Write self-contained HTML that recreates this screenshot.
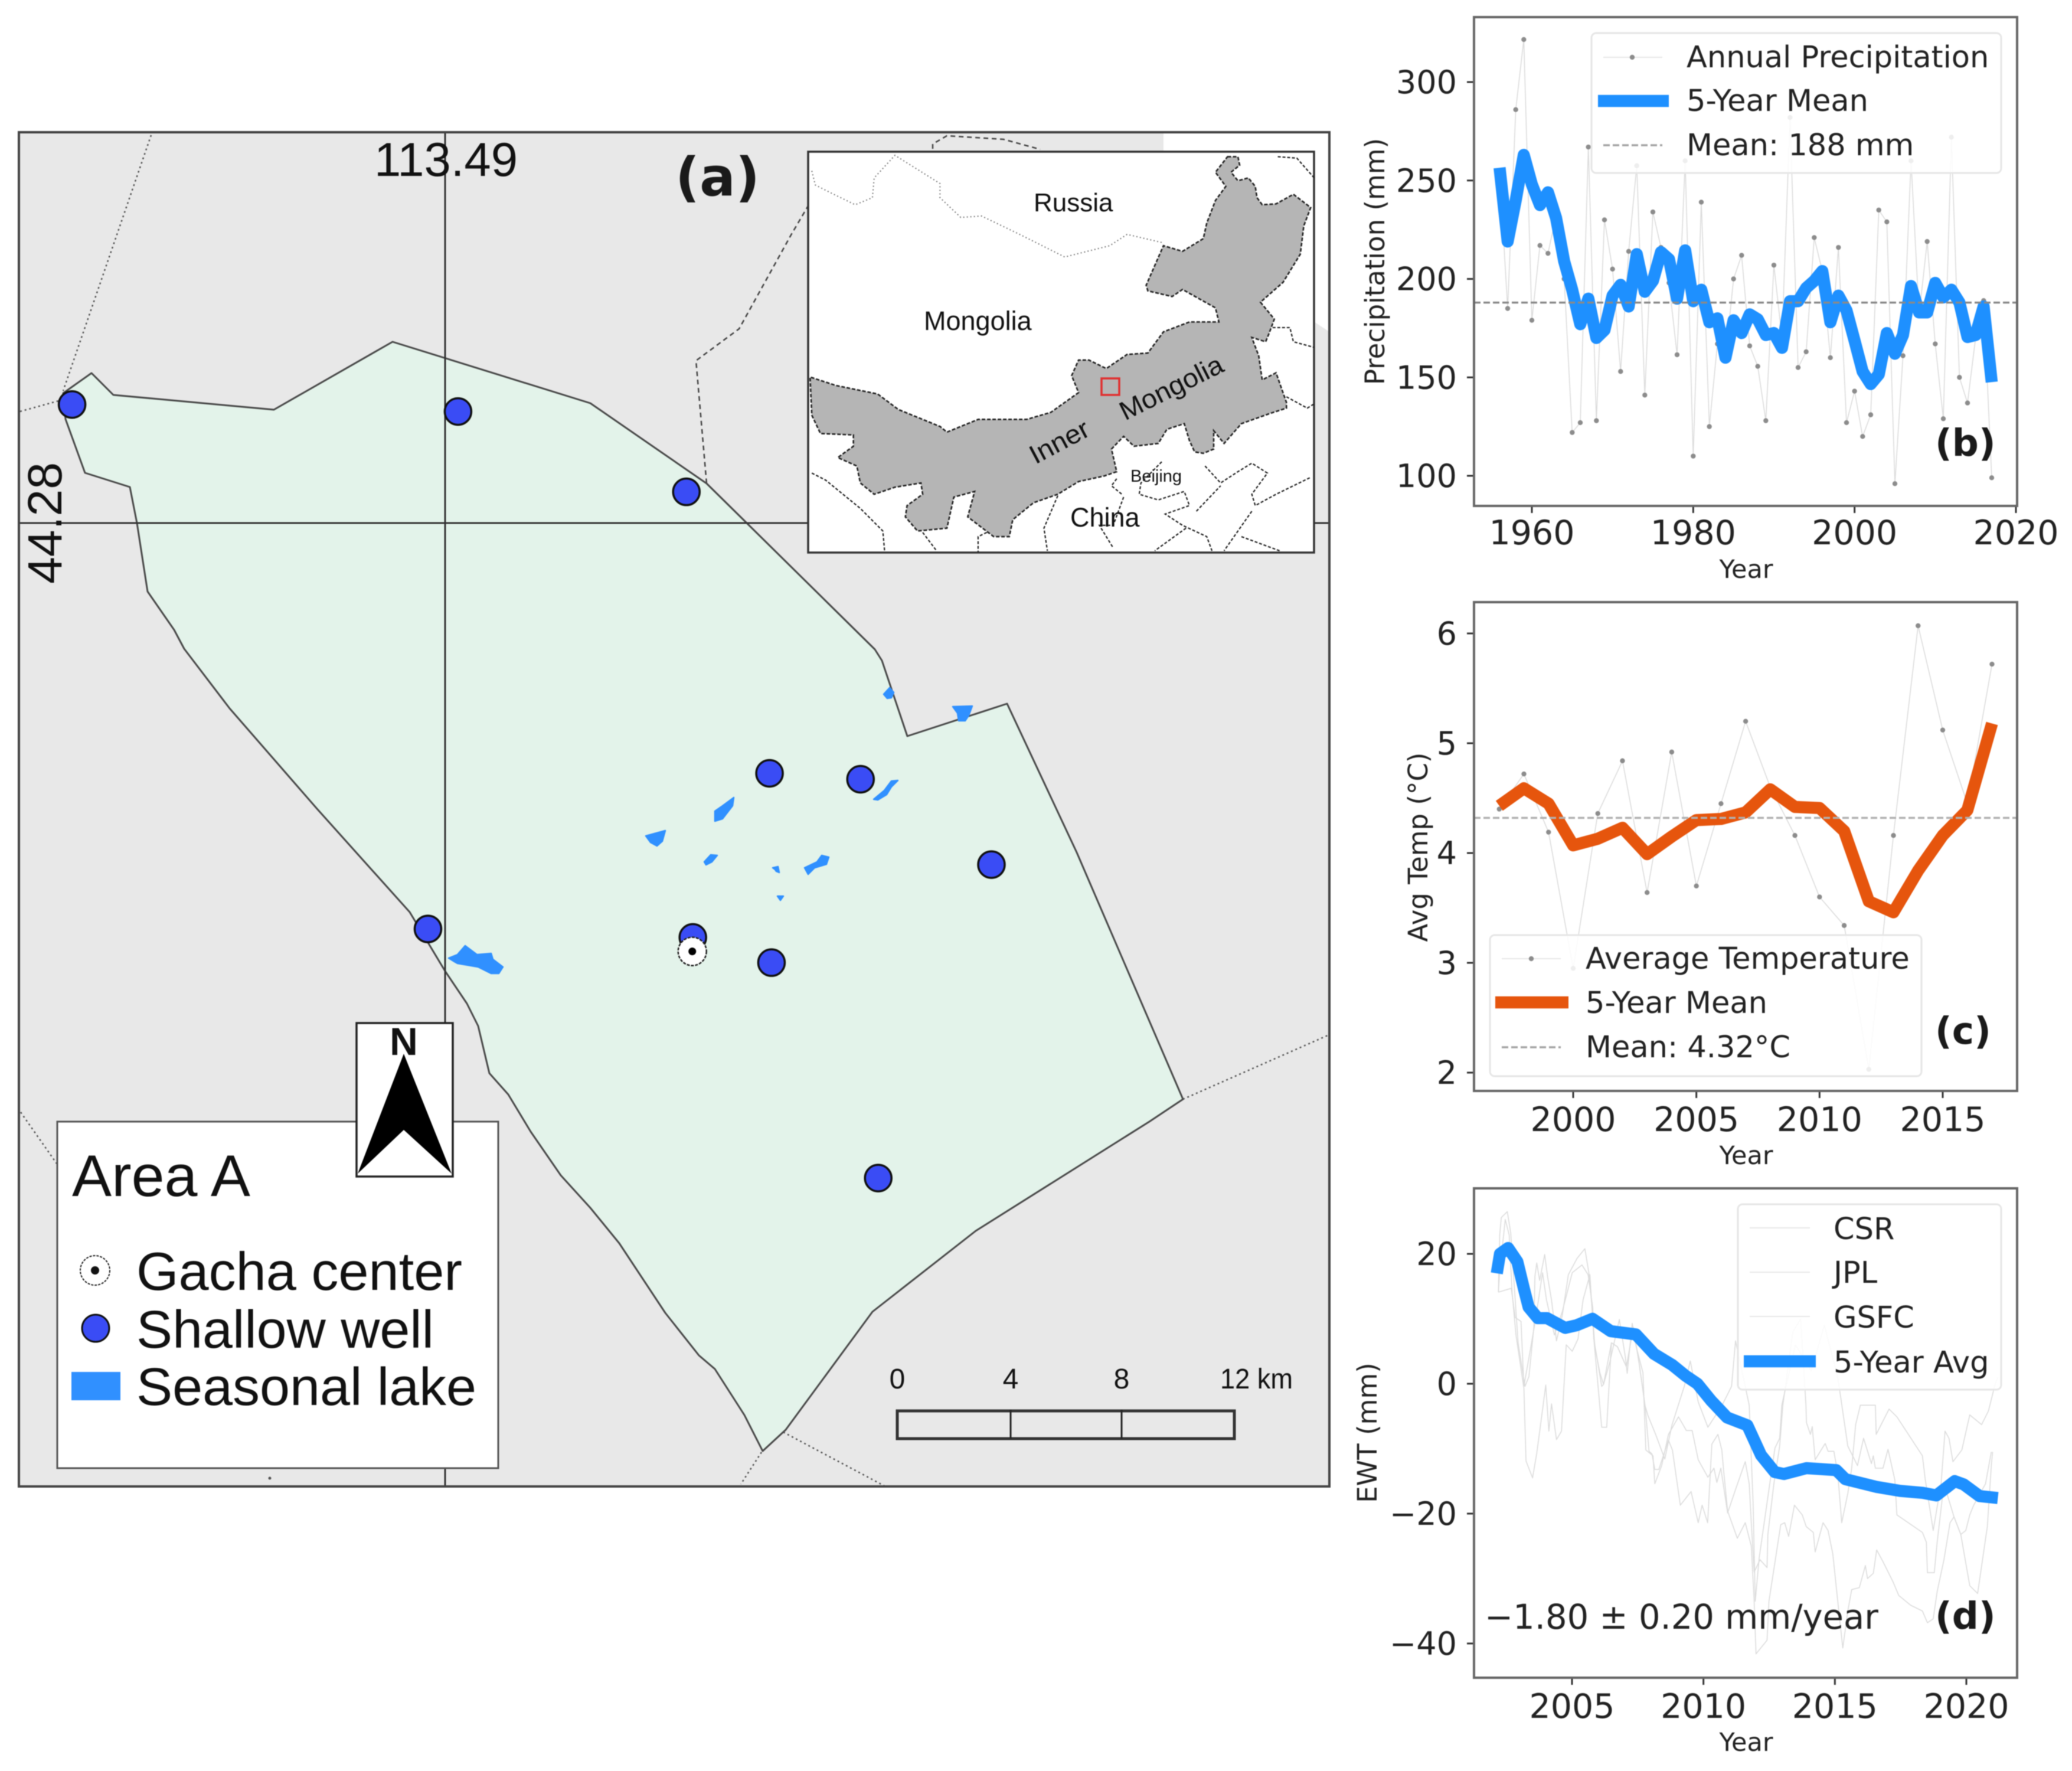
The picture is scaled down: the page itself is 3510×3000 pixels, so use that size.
<!DOCTYPE html>
<html>
<head>
<meta charset="utf-8">
<title>Study area map with precipitation, temperature and EWT panels</title>
<style>
html,body{margin:0;padding:0;background:#fff;}
#fig{display:block;width:3510px;height:3000px;filter:blur(0.9px);}
.mp{font-family:"Liberation Sans",Arial,sans-serif;fill:#111;}
.dj{font-family:"DejaVu Sans",sans-serif;fill:#222;}
.bd{font-family:"DejaVu Sans",sans-serif;font-weight:bold;fill:#1a1a1a;}
.dot{fill:none;stroke:#555;stroke-width:2.5;stroke-dasharray:3 5;}
.dsh{fill:none;stroke:#444;stroke-width:2.5;stroke-dasharray:8 6;}
.prov{fill:none;stroke:#222;stroke-width:2.2;stroke-dasharray:5 3;vector-effect:non-scaling-stroke;}
.lake{fill:#3090ff;stroke:#3090ff;stroke-width:2.5;stroke-linejoin:round;}
</style>
</head>
<body>
<svg id="fig" xmlns="http://www.w3.org/2000/svg" width="3510" height="3000" viewBox="0 0 3510 3000">
  <rect x="0" y="0" width="3510" height="3000" fill="#ffffff"/>

  <g id="panel-a">
    <rect x="32" y="224" width="2220" height="2294" fill="#e8e8e8"/>
    <polygon points="1971,224 2252,224 2252,562 2226,545 2226,257 1971,257" fill="#ffffff"/>
    <polyline class="dot" points="256,229 107,662"/>
    <polyline class="dot" points="34,697 103,678"/>
    <polyline class="dsh" points="1370,347 1340,398 1252,557 1179,611 1197,819"/>
    <polyline class="dsh" points="1580,252 1580,244 1604,230 1700,236 1762,253"/>
    <polyline class="dot" points="2004,1862 2249,1754"/>
    <polyline class="dot" points="35,1884 96,1971"/>
    <polyline class="dot" points="1327,2426 1498,2517"/>
    <polyline class="dot" points="1290,2460 1255,2514"/>
    <circle cx="457" cy="2504" r="2.5" fill="#555"/>
    <polygon fill="#e3f3ea" stroke="#4a4a4a" stroke-width="3" stroke-linejoin="round" points="107,666 155,632 192,669 464,694 665,579 1000,683 1197,819 1265,886 1482,1100 1494,1119 1537,1247 1706,1192 1824,1444 2004,1862 1947,1900 1653,2085 1478,2222 1331,2422 1292,2458 1261,2397 1211,2319 1184,2296 1127,2224 1049,2106 1000,2046 950,1991 899,1917 861,1854 829,1818 810,1738 791,1700 754,1645 694,1545 537,1370 389,1200 312,1099 295,1067 250,1002 232,886 220,825 144,801 111,710"/>
    <line x1="754" y1="224" x2="754" y2="2518" stroke="#333" stroke-width="3"/>
    <line x1="32" y1="886" x2="2252" y2="886" stroke="#333" stroke-width="3"/>
    <g>
      <polygon class="lake" points="1507,1165 1514,1173 1510,1182 1503,1183 1497,1176"/>
      <polygon class="lake" points="1614,1197 1647,1196 1641,1212 1635,1221 1624,1221 1622,1208"/>
      <polygon class="lake" points="1243,1351 1241,1365 1224,1387 1211,1391 1211,1374 1224,1365"/>
      <polygon class="lake" points="1094,1416 1127,1407 1122,1425 1113,1433 1102,1427"/>
      <polygon class="lake" points="1193,1460 1204,1448 1215,1449 1206,1460 1196,1465"/>
      <polygon class="lake" points="1363,1470 1384,1460 1392,1449 1404,1452 1400,1464 1380,1470 1369,1481"/>
      <polygon class="lake" points="1521,1322 1510,1323 1498,1339 1480,1354 1487,1355 1502,1346 1510,1333"/>
      <polygon class="lake" points="1309,1470 1318,1468 1320,1478 1315,1476 1313,1473"/>
      <polygon class="lake" points="1317,1518 1327,1518 1322,1525"/>
      <polygon class="lake" points="760,1623 775,1617 788,1602 808,1617 832,1615 835,1625 852,1638 845,1649 832,1649 810,1638 775,1632 768,1628"/>
    </g>
    <g id="well-layer"></g>
    <g id="gacha-layer"></g>

    <text class="mp" x="634" y="298" font-size="81" textLength="243" lengthAdjust="spacingAndGlyphs">113.49</text>
    <text class="mp" transform="translate(104,989) rotate(-90)" font-size="82" textLength="206" lengthAdjust="spacingAndGlyphs">44.28</text>
    <text class="bd" x="1144" y="331" font-size="90">(a)</text>

    <g>
      <rect x="1369" y="257" width="857" height="679" fill="#ffffff" stroke="#333" stroke-width="3.5"/>
      <g transform="translate(1340,220) scale(0.5869,0.4785)">
        <polyline fill="none" stroke="#777" stroke-width="2" stroke-dasharray="2 4" vector-effect="non-scaling-stroke" points="60,145 70,195 110,220 185,265 235,240 240,170 300,90 430,190 430,240 490,310 550,305 660,370 790,450 920,410 970,370 1075,400"/>
        <polygon fill="#b5b5b5" stroke="#222" stroke-width="2.6" stroke-dasharray="6 3" vector-effect="non-scaling-stroke" points="1260,95 1290,95 1295,125 1270,150 1290,180 1320,170 1340,200 1345,240 1360,265 1400,262 1450,228 1500,275 1480,340 1470,440 1445,490 1420,540 1355,610 1395,670 1380,720 1370,750 1330,735 1350,800 1360,885 1400,860 1430,965 1430,985 1380,1005 1300,1040 1250,1110 1220,1065 1220,1130 1190,1145 1165,1140 1150,1100 1135,1040 1085,1060 1060,1110 990,1120 960,1085 925,1130 940,1210 905,1225 830,1245 770,1290 700,1320 640,1380 630,1440 585,1440 510,1370 530,1280 470,1300 450,1410 365,1420 330,1370 335,1330 380,1290 375,1250 300,1265 240,1290 200,1250 190,1190 135,1160 180,1120 180,1080 85,1075 60,1010 55,875 130,905 250,935 310,990 430,1050 450,1070 540,1025 680,1025 750,1000 830,930 810,870 830,815 860,815 910,845 970,795 1030,790 1075,715 1150,680 1235,680 1225,630 1130,565 1100,590 1030,570 1025,550 1075,410 1130,430 1190,385 1200,330 1225,250 1255,200 1225,150"/>
        <polyline class="prov" points="60,1215 100,1240 150,1290 200,1340 265,1420 270,1490"/>
        <polyline class="prov" points="380,1425 420,1490"/>
        <polyline class="prov" points="565,1425 540,1440 540,1495"/>
        <polyline class="prov" points="770,1295 730,1410 740,1490"/>
        <polyline class="prov" points="960,1300 930,1400 890,1400 930,1480"/>
        <polyline class="prov" points="940,1235 925,1260 955,1290"/>
        <polyline class="prov" points="1070,1175 1010,1250 1005,1290 1060,1310 1135,1280 1150,1330 1080,1360 1130,1400 1200,1440 1215,1490"/>
        <polyline class="prov" points="1195,1190 1240,1250 1290,1210 1330,1180 1375,1215 1330,1290 1340,1330 1400,1290 1500,1230"/>
        <polyline class="prov" points="1170,1350 1240,1260"/>
        <polyline class="prov" points="1140,1410 1050,1490"/>
        <polyline class="prov" points="1330,1350 1250,1490"/>
        <polyline class="prov" points="1300,1440 1410,1490"/>
        <polyline class="prov" points="1405,95 1460,100 1510,170"/>
        <polyline class="prov" points="1390,700 1440,700 1450,750 1510,770"/>
        <polyline class="prov" points="1430,945 1490,985 1510,970"/>
      </g>
      <rect x="1866" y="641" width="30" height="28" fill="none" stroke="#e03030" stroke-width="3.5"/>
      <text class="mp" x="1751" y="358" font-size="44">Russia</text>
      <text class="mp" x="1565" y="559" font-size="45">Mongolia</text>
      <text class="mp" x="1813" y="892" font-size="45">China</text>
      <text class="mp" x="1915" y="816" font-size="29">Beijing</text>
      <text class="mp" transform="translate(1754,787) rotate(-28)" font-size="45" textLength="108" lengthAdjust="spacingAndGlyphs">Inner</text>
      <text class="mp" transform="translate(1906,713) rotate(-26.6)" font-size="45" textLength="190" lengthAdjust="spacingAndGlyphs">Mongolia</text>
    </g>

    <g>
      <rect x="97" y="1900" width="747" height="587" fill="#ffffff" stroke="#555" stroke-width="3"/>
      <text class="mp" x="122" y="2026" font-size="99" textLength="302" lengthAdjust="spacingAndGlyphs">Area A</text>
      <circle cx="161" cy="2152" r="25" fill="#fff" stroke="#222" stroke-width="2" stroke-dasharray="4 2"/>
      <circle cx="161" cy="2152" r="7" fill="#111"/>
      <text class="mp" x="231" y="2185" font-size="91" textLength="552" lengthAdjust="spacingAndGlyphs">Gacha center</text>
      <circle cx="162" cy="2250" r="23" fill="#3a4cf5" stroke="#111" stroke-width="3"/>
      <text class="mp" x="231" y="2283" font-size="90" textLength="504" lengthAdjust="spacingAndGlyphs">Shallow well</text>
      <rect x="121" y="2324" width="83" height="48" fill="#3090ff"/>
      <text class="mp" x="231" y="2380" font-size="90" textLength="576" lengthAdjust="spacingAndGlyphs">Seasonal lake</text>
    </g>

    <g>
      <rect x="604" y="1733" width="163" height="260" fill="#fff" stroke="#222" stroke-width="3.5"/>
      <text class="mp" x="684" y="1787" font-size="66" text-anchor="middle" font-weight="bold">N</text>
      <polygon points="684,1785 765,1988 684,1914 606,1988" fill="#000"/>
    </g>

    <g>
      <rect x="1520" y="2390" width="571" height="47" fill="none" stroke="#333" stroke-width="5"/>
      <line x1="1712" y1="2388" x2="1712" y2="2437" stroke="#222" stroke-width="3"/>
      <line x1="1900" y1="2388" x2="1900" y2="2437" stroke="#222" stroke-width="3"/>
      <text class="mp" x="1520" y="2352" font-size="48" text-anchor="middle">0</text>
      <text class="mp" x="1712" y="2352" font-size="48" text-anchor="middle">4</text>
      <text class="mp" x="1900" y="2352" font-size="48" text-anchor="middle">8</text>
      <text class="mp" x="2067" y="2352" font-size="48" textLength="123" lengthAdjust="spacingAndGlyphs">12 km</text>
    </g>
    <rect x="32" y="224" width="2220" height="2294" fill="none" stroke="#444" stroke-width="4"/>
  </g>

  <g id="panel-b"></g>
  <g id="panel-c"></g>
  <g id="panel-d"></g>
</svg>

<script>
// ---- Map point data: offsets in km from the gridline crossing ----
const wellEastKm = [-13.28, 0.46, 8.59, 11.55, 14.79, 19.45, -0.61, 8.82, 11.62, 15.42];
const wellNorthKm = [4.22, 3.97, 1.11, -8.91, -9.12, -12.16, -14.45, -14.75, -15.65, -23.32];
const gachaEastKm = 8.80;
const gachaNorthKm = -15.25;

// ---- Panel (b) precipitation ----
const precipYears = [1956,1957,1958,1959,1960,1961,1962,1963,1964,1965,1966,1967,1968,1969,1970,1971,1972,1973,1974,1975,1976,1977,1978,1979,1980,1981,1982,1983,1984,1985,1986,1987,1988,1989,1990,1991,1992,1993,1994,1995,1996,1997,1998,1999,2000,2001,2002,2003,2004,2005,2006,2007,2008,2009,2010,2011,2012,2013,2014,2015,2016,2017];
const precipAnnual = [255,185,286,321.6,179,217,213,232,200,122,127,267,128,230,205,153,214,257.5,141,234,216,198,161.5,260,110,239,125,167,160,200,212,166,155.6,128,207,170,282,155,163,221,204,160,216,127,143,120,131,235,229,96,161,260,182,219,167,129,272,150,137,170,189,99];
const precipMean5 = [256.5,219,240,263,248,237.5,244,231,209,194.5,177,190,170,174,191.5,197,186,212.6,193.5,199,213.6,210,190,214.5,188.7,194.5,178,180,160,179,172.5,182,179.5,171.5,172.5,165,188.7,188.7,195.4,199,204,178,191.5,184,168.6,153,146.6,151.5,172.5,162,171.5,196.4,183,183,198,190.6,194.5,188,170.5,171.5,186,147.6];
const precipLongTermMean = 188;
const precipXTicks = [1960,1980,2000,2020];
const precipYTicks = [100,150,200,250,300];
const precipLegendLabels = ["Annual Precipitation","5-Year Mean","Mean: 188 mm"];

// ---- Panel (c) temperature ----
const tempYears = [1997,1998,1999,2000,2001,2002,2003,2004,2005,2006,2007,2008,2009,2010,2011,2012,2013,2014,2015,2016,2017];
const tempAnnual = [4.4,4.72,4.19,2.95,4.36,4.84,3.64,4.92,3.70,4.45,5.2,4.6,4.16,3.6,3.34,2.03,4.16,6.07,5.12,4.45,5.72];
const tempMean5 = [4.43,4.59,4.45,4.07,4.13,4.23,3.99,4.15,4.30,4.31,4.37,4.58,4.42,4.41,4.2,3.56,3.46,3.84,4.16,4.39,5.18];
const tempLongTermMean = 4.32;
const tempXTicks = [2000,2005,2010,2015];
const tempYTicks = [2,3,4,5,6];
const tempLegendLabels = ["Average Temperature","5-Year Mean","Mean: 4.32\u00B0C"];

// ---- Panel (d) EWT ----
const csrYears = [2002.2,2002.25,2002.31,2002.54,2002.67,2002.84,2002.95,2003.21,2003.36,2003.55,2003.59,2003.66,2003.77,2003.96,2004.07,2004.22,2004.41,2004.63,2004.86,2005.19,2005.49,2005.64,2005.76,2005.87,2006.06,2006.2,2006.43,2006.8,2007.03,2007.1,2007.29,2007.44,2007.7,2007.81,2008.08,2008.15,2008.41,2008.67,2009.05,2009.35,2009.57,2009.8,2010.17,2010.4,2010.51,2010.66,2010.92,2011.22,2011.59,2011.74,2011.82,2011.93,2012.15,2012.42,2012.45,2012.68,2012.9,2013.02,2013.4,2013.7,2013.9,2013.92,2014.07,2014.14,2014.25,2014.63,2014.74,2014.96,2015.11,2015.26,2015.49,2015.64,2015.79,2015.97,2016.54,2016.57,2017.06,2017.36,2018.33,2018.44,2018.74,2019.04,2019.19,2019.34,2019.49,2019.83,2020.13,2020.58,2020.84,2021.1,2021.2];
const csrValues = [14.1,22.9,25.6,26.5,23.2,12.9,6.3,-0.4,1.1,8.7,16.5,18.6,15.9,19.9,16.5,12.9,6.6,10.5,16.8,19.3,20.8,17.1,12,5.7,1.7,-0.1,3.2,9.9,4.1,1.6,9.3,5.7,1.7,-10.2,-11.1,-15.4,-12.6,-7.8,-5.1,-7.2,-7.2,-11.7,-14.4,-13,-15.2,-13,-19.9,-16.3,-12,-15.4,-21.4,-29,-27.1,-28.3,-23.2,-15.4,-9.6,-3.3,8,10,-3.3,-6,-7.8,-6.6,-11.7,-9.2,-10.4,-10.4,-13.8,-21.4,-16.9,-13,-6.3,-3.3,-3.3,-7.8,-3.9,-5.1,-11.1,-14.8,-22.6,-15.4,-7.3,-8.4,-12,-10.2,-4.8,-6.3,-4.2,0,1];
const jplYears = [2002.2,2002.24,2002.46,2002.61,2002.72,2002.87,2003.17,2003.25,2003.5,2003.66,2003.85,2004,2004.12,2004.22,2004.41,2004.6,2004.78,2005.01,2005.23,2005.42,2005.68,2005.83,2006.13,2006.32,2006.5,2006.73,2007.07,2007.33,2007.55,2007.78,2007.93,2008.04,2008.15,2008.3,2008.67,2008.82,2009.12,2009.53,2009.8,2009.95,2010.16,2010.32,2010.55,2010.7,2010.77,2010.92,2011.29,2011.59,2011.82,2011.93,2012,2012.42,2012.49,2012.94,2013.09,2013.24,2013.46,2013.76,2013.91,2014.18,2014.25,2014.55,2014.74,2014.92,2015.11,2015.3,2015.49,2015.64,2015.93,2016.16,2016.24,2016.46,2016.59,2016.83,2017.21,2017.43,2017.88,2018.33,2018.52,2018.74,2018.89,2019.15,2019.38,2019.53,2019.79,2019.98,2020.13,2020.28,2020.73,2020.95];
const jplValues = [14.1,16.8,25.3,22.9,14.1,7.5,-0.7,-11.9,-14.5,-10.7,-4.9,-0.2,-7.3,-3.1,-8.6,-7.3,6,5,6.9,12.9,16.8,6.9,-6.7,-6.7,6.3,5.7,2.6,8.7,3.2,-3.4,-10.4,-10.8,-13.2,-13.2,-8.7,-10.2,-18.7,-16.6,-21.4,-18.7,-21.4,-9.3,-7.8,-10.2,-13.5,-19.6,-23.8,-21.4,-25,-33.5,-41.6,-39.5,-33.5,-21.7,-21.4,-23.5,-18.7,-20.2,-22,-22.9,-25.9,-21.4,-22.6,-26.2,-33.5,-40.7,-35,-31.7,-31.4,-28,-30,-29.2,-25.6,-27.4,-30.5,-32.6,-34.1,-35,-36.8,-36.2,-32,-27.1,-21.4,-20.5,-23.2,-22.6,-20.2,-18.7,-15.4,-10.5];
const gsfcYears = [2002.2,2002.69,2002.84,2003.06,2003.17,2003.59,2003.88,2004.03,2004.33,2004.63,2005.01,2005.38,2005.61,2005.79,2005.83,2006.13,2006.2,2006.5,2006.73,2007.07,2007.33,2007.55,2007.78,2007.89,2008.2,2008.53,2008.8,2009.27,2009.5,2009.8,2010.17,2010.7,2011.07,2011.22,2011.74,2011.89,2011.97,2012.12,2012.49,2012.72,2012.9,2012.98,2013.5,2014.1,2014.6,2015.11,2015.49,2015.86,2016.09,2016.39,2016.46,2016.54,2016.83,2017.02,2017.28,2017.36,2018.33,2018.48,2018.52,2018.78,2018.89,2019.15,2019.53,2019.79,2020.13,2020.43,2020.8,2020.95,2021];
const gsfcValues = [14.1,14.7,10.2,9.6,-0.4,9.3,17.1,12.9,7.5,11.1,17.1,18.3,16.8,11.7,6.9,-0.4,-0.1,6.3,5.7,2.6,8.7,3.2,-3.4,-4.9,-8,-11.6,-6.4,-0.4,3.5,-2.8,-6.7,-3.4,-0.4,6.6,-3.3,-18.4,-33.5,-26.8,-16.3,-9.9,-8.4,-3.3,6,2,9,1,-9.6,-12.6,-8.4,-12.3,-11.1,-13,-13,-10.1,-14.8,-20.2,-22.9,-24.4,-29.1,-29.1,-24.4,-15.4,-20.5,-23.2,-31.1,-32.3,-22,-12.6,-10.5];
const ewtAvgYears = [2002.14,2002.26,2002.57,2002.92,2003.18,2003.35,2003.7,2004.05,2004.74,2005.17,2005.78,2006.47,2007.43,2008.12,2008.81,2009.33,2009.77,2010.29,2010.9,2011.67,2011.93,2012.19,2012.71,2013.06,2013.92,2015.05,2015.4,2016.6,2017.48,2018.34,2018.86,2019.56,2019.9,2020.5,2021.2];
const ewtAvgValues = [17,20,20.9,18.8,14.5,11.8,10.1,10.1,8.6,9,10,8.1,7.6,4.6,2.9,1.2,0,-2.6,-5.2,-6.4,-8.7,-11,-13.6,-13.9,-13,-13.3,-14.7,-15.9,-16.5,-16.8,-17.2,-15,-15.5,-17.3,-17.6];
const ewtXTicks = [2005,2010,2015,2020];
const ewtYTicks = [-40,-20,0,20];
const ewtLegendLabels = ["CSR","JPL","GSFC","5-Year Avg"];
const ewtTrendText = "\u22121.80 \u00B1 0.20 mm/year";

const NS = "http://www.w3.org/2000/svg";
function mk(tag, attrs, parent) {
  const el = document.createElementNS(NS, tag);
  for (const k in attrs) el.setAttribute(k, attrs[k]);
  parent.appendChild(el);
  return el;
}
function linear(d0, r0, d1, r1) {
  return function (v) { return r0 + (v - d0) * (r1 - r0) / (d1 - d0); };
}
function pathOf(xs, ys, fx, fy) {
  return xs.map(function (x, i) { return fx(x).toFixed(1) + "," + fy(ys[i]).toFixed(1); }).join(" ");
}
function fmt(v) { return v < 0 ? "\u2212" + Math.abs(v) : String(v); }

// ---- Wells on the map ----
const kmX = linear(0, 754, 12, 1325);
const kmY = linear(0, 886, 12, 315);
const wellLayer = document.getElementById("well-layer");
wellEastKm.forEach(function (e, i) {
  const c = mk("circle", {cx: kmX(e), cy: kmY(wellNorthKm[i]), r: 22.5, fill: "#3a4cf5", stroke: "#111", "stroke-width": 3.5}, wellLayer);
  
  
});
const gachaLayer = document.getElementById("gacha-layer");
const gachaRing = mk("circle", {cx: kmX(gachaEastKm), cy: kmY(gachaNorthKm), r: 24, fill: "#fff", stroke: "#222", "stroke-width": 2.5, "stroke-dasharray": "5 2"}, gachaLayer);


const gachaDot = mk("circle", {cx: kmX(gachaEastKm), cy: kmY(gachaNorthKm), r: 6.5, fill: "#000"}, gachaLayer);



// ---- Shared axes ----
function drawAxes(g, box, xTicks, fx, yTicks, fy, yLabel, yLabelX, yLabelY, xLabelBase, xTickBase) {
  const frameBg = mk("rect", {x: box.l, y: box.t, width: box.r - box.l, height: box.b - box.t, fill: "#fff"}, g);
  
  
  xTicks.forEach(function (t) {
    const tick = mk("line", {x1: fx(t), x2: fx(t), y1: box.b, y2: box.b + 12, stroke: "#333", "stroke-width": 3}, g);
    
    
    const lab = mk("text", {x: fx(t), y: xTickBase, "font-size": 57, "text-anchor": "middle", "class": "dj"}, g);
    lab.textContent = fmt(t);
    
    
  });
  yTicks.forEach(function (t) {
    const tick = mk("line", {x1: box.l - 12, x2: box.l, y1: fy(t), y2: fy(t), stroke: "#333", "stroke-width": 3}, g);
    
    
    const lab = mk("text", {x: box.l - 29, y: fy(t) + 19, "font-size": 54, "text-anchor": "end", "class": "dj"}, g);
    lab.textContent = fmt(t);
    
    
  });
  const xl = mk("text", {x: 2958, y: xLabelBase, "font-size": 43, "text-anchor": "middle", "class": "dj"}, g);
  xl.textContent = "Year";
  
  
  const yl = mk("text", {transform: "translate(" + yLabelX + "," + yLabelY + ") rotate(-90)", "font-size": 45, "text-anchor": "middle", "class": "dj"}, g);
  yl.textContent = yLabel;
  
  
}
function drawFrame(g, box) {
  const f = mk("rect", {x: box.l, y: box.t, width: box.r - box.l, height: box.b - box.t, fill: "none", stroke: "#666", "stroke-width": 4}, g);
  
  
}
function thinLine(g, pts, name) {
  const l = mk("polyline", {points: pts, fill: "none", stroke: "#dcdcdc", "stroke-width": 1.6, "stroke-linejoin": "round"}, g);
  
  
  return l;
}
function thickLine(g, pts, color, name) {
  const l = mk("polyline", {points: pts, fill: "none", stroke: color, "stroke-width": 20.5, "stroke-linejoin": "round", "stroke-linecap": "butt"}, g);
  
  
  return l;
}
function dots(g, xs, ys, fx, fy) {
  xs.forEach(function (x, i) {
    const d = mk("circle", {cx: fx(x), cy: fy(ys[i]), r: 4.2, fill: "#8c8c8c"}, g);
    
    
  });
}
function meanLine(g, box, y, color) {
  const l = mk("line", {x1: box.l, x2: box.r, y1: y, y2: y, stroke: color, "stroke-width": 3.4, "stroke-dasharray": "11 5"}, g);
  
  
}
function legendBox(g, x, y, w, h) {
  const b = mk("rect", {x: x, y: y, width: w, height: h, rx: 8, fill: "#ffffff", "fill-opacity": 0.85, stroke: "#e6e6e6", "stroke-width": 3}, g);
  
  
}
function legendText(g, x, y, s) {
  const t = mk("text", {x: x, y: y, "font-size": 51, "class": "dj"}, g);
  t.textContent = s;
  
  
}
function legendHandle(g, x1, x2, y, kind, color) {
  const attrs = {x1: x1, x2: x2, y1: y, y2: y};
  if (kind === "thin") { attrs.stroke = "#e0e0e0"; attrs["stroke-width"] = 1.6; }
  if (kind === "thick") { attrs.stroke = color; attrs["stroke-width"] = 20.5; }
  if (kind === "dash") { attrs.stroke = "#a6a6a6"; attrs["stroke-width"] = 3.4; attrs["stroke-dasharray"] = "11 5"; }
  const l = mk("line", attrs, g);
  
  
}
function legendDot(g, x, y) {
  const d = mk("circle", {cx: x, cy: y, r: 4.2, fill: "#8c8c8c"}, g);
  
  
}
function panelTag(g, x, y, s) {
  const t = mk("text", {x: x, y: y, "font-size": 63, "class": "bd"}, g);
  t.textContent = s;
  
  
}

// ---- Panel b ----
(function () {
  const g = document.getElementById("panel-b");
  const box = {l: 2497, r: 3417, t: 29, b: 857};
  const fx = linear(1960, 2595, 2020, 3415);
  const fy = linear(100, 806, 300, 139);
  drawAxes(g, box, precipXTicks, fx, precipYTicks, fy, "Precipitation (mm)", 2345, 443, 979, 922);
  thinLine(g, pathOf(precipYears, precipAnnual, fx, fy), "annual-precipitation-line");
  dots(g, precipYears, precipAnnual, fx, fy);
  thickLine(g, pathOf(precipYears, precipMean5, fx, fy), "#1e90ff", "precipitation-5-year-mean-line");
  meanLine(g, box, fy(precipLongTermMean), "#8a8a8a");
  legendBox(g, 2696, 56, 694, 237);
  legendHandle(g, 2716, 2816, 97, "thin");
  legendDot(g, 2765, 97);
  legendHandle(g, 2707, 2827, 171, "thick", "#1e90ff");
  legendHandle(g, 2716, 2816, 246, "dash");
  legendText(g, 2857, 114, precipLegendLabels[0]);
  legendText(g, 2857, 188, precipLegendLabels[1]);
  legendText(g, 2857, 263, precipLegendLabels[2]);
  panelTag(g, 3278, 772, "(b)");
  drawFrame(g, box);
})();

// ---- Panel c ----
(function () {
  const g = document.getElementById("panel-c");
  const box = {l: 2497, r: 3417, t: 1020, b: 1848};
  const fx = linear(2000, 2665, 2015, 3291);
  const fy = linear(2, 1817, 6, 1073);
  drawAxes(g, box, tempXTicks, fx, tempYTicks, fy, "Avg Temp (\u00B0C)", 2418, 1435, 1972, 1916);
  thinLine(g, pathOf(tempYears, tempAnnual, fx, fy), "annual-temperature-line");
  dots(g, tempYears, tempAnnual, fx, fy);
  thickLine(g, pathOf(tempYears, tempMean5, fx, fy), "#e6550d", "temperature-5-year-mean-line");
  meanLine(g, box, fy(tempLongTermMean), "#b0b0b0");
  legendBox(g, 2524, 1584, 731, 239);
  legendHandle(g, 2544, 2644, 1624, "thin");
  legendDot(g, 2594, 1624);
  legendHandle(g, 2533, 2657, 1698, "thick", "#e6550d");
  legendHandle(g, 2544, 2644, 1774, "dash");
  legendText(g, 2686, 1641, tempLegendLabels[0]);
  legendText(g, 2686, 1716, tempLegendLabels[1]);
  legendText(g, 2686, 1791, tempLegendLabels[2]);
  panelTag(g, 3278, 1768, "(c)");
  drawFrame(g, box);
})();

// ---- Panel d ----
(function () {
  const g = document.getElementById("panel-d");
  const box = {l: 2497, r: 3417, t: 2013, b: 2842};
  const fx = linear(2005, 2663, 2020, 3331);
  const fy = linear(0, 2344, 20, 2124);
  drawAxes(g, box, ewtXTicks, fx, ewtYTicks, fy, "EWT (mm)", 2332, 2427, 2966, 2910);
  thinLine(g, pathOf(csrYears, csrValues, fx, fy), "csr-line");
  thinLine(g, pathOf(jplYears, jplValues, fx, fy), "jpl-line");
  thinLine(g, pathOf(gsfcYears, gsfcValues, fx, fy), "gsfc-line");
  legendBox(g, 2944, 2040, 446, 314);
  thickLine(g, pathOf(ewtAvgYears, ewtAvgValues, fx, fy), "#1e90ff", "ewt-5-year-average-line");
  legendHandle(g, 2964, 3066, 2080, "thin");
  legendHandle(g, 2964, 3066, 2155, "thin");
  legendHandle(g, 2964, 3066, 2230, "thin");
  legendHandle(g, 2954, 3076, 2306, "thick", "#1e90ff");
  legendText(g, 3106, 2099, ewtLegendLabels[0]);
  legendText(g, 3106, 2173, ewtLegendLabels[1]);
  legendText(g, 3106, 2249, ewtLegendLabels[2]);
  legendText(g, 3106, 2325, ewtLegendLabels[3]);
  const tr = mk("text", {x: 2515, y: 2759, "font-size": 57.5, "class": "dj"}, g);
  tr.textContent = ewtTrendText;
  
  
  panelTag(g, 3278, 2759, "(d)");
  drawFrame(g, box);
})();
</script>
</body>
</html>
